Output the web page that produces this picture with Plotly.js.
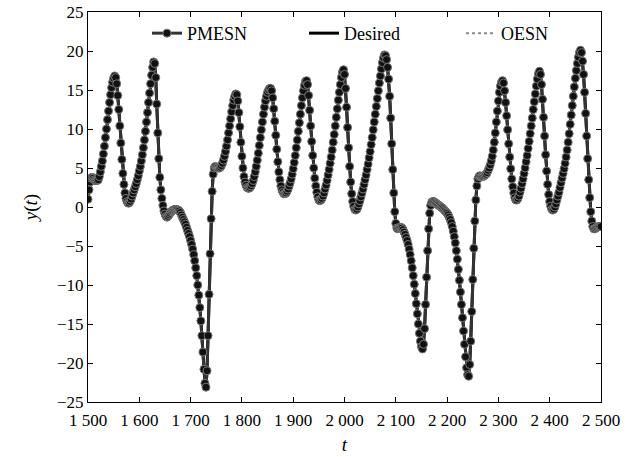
<!DOCTYPE html>
<html>
<head>
<meta charset="utf-8">
<script src="https://cdn.plot.ly/plotly-3.0.1.min.js"></script>
<style>html,body{margin:0;padding:0;background:#fff;}#chart{width:635px;height:457px;}</style>
</head>
<body>
<div id="chart"></div>
<script>
// time axis: sampled every 2 units from 1500 to 2500
const tStart = 1500;
const tStep = 2;

// y(t), one array per 100 time units (50 samples each)
const y1500 = [1.0,2.2,3.2,3.7,3.8,3.7,3.5,3.4,3.4,3.4,3.5,3.9,4.5,5.2,5.9,6.8,7.8,8.9,10.0,11.2,
  12.3,13.4,14.4,15.3,16.0,16.5,16.8,16.6,15.8,14.3,12.5,10.4,8.2,6.1,4.3,2.9,1.8,1.1,0.7,0.5,
  0.5,0.7,1.0,1.4,1.8,2.2,2.6,3.0,3.5,4.0];
const y1600 = [4.6,5.2,5.9,6.7,7.6,8.6,9.7,10.9,12.1,13.4,14.6,15.8,16.9,17.9,18.6,18.4,16.6,13.2,9.5,6.2,
  3.8,2.2,1.1,0.2,-0.5,-0.9,-1.2,-1.3,-1.2,-1.0,-0.8,-0.6,-0.5,-0.4,-0.35,-0.3,-0.3,-0.35,-0.4,-0.5,
  -0.7,-1.0,-1.3,-1.6,-1.9,-2.2,-2.6,-3.0,-3.4,-3.8];
const y1700 = [-4.3,-4.8,-5.4,-6.1,-6.9,-7.8,-8.8,-10.0,-11.3,-12.9,-14.6,-16.5,-18.6,-20.8,-22.6,-23.1,-21.0,-16.5,-11.2,-6.0,
  -1.5,2.0,4.2,5.0,5.2,5.1,5.0,5.0,5.0,5.1,5.3,5.6,6.0,6.5,7.1,7.8,8.6,9.5,10.4,11.3,
  12.2,13.0,13.7,14.2,14.5,14.4,13.6,12.1,10.3,8.3];
const y1800 = [6.5,5.0,3.9,3.2,2.8,2.5,2.4,2.4,2.5,2.7,3.0,3.4,3.9,4.5,5.2,6.0,6.9,7.9,8.9,9.9,
  10.9,11.9,12.8,13.6,14.2,14.7,15.0,15.2,15.2,14.9,14.0,12.6,11.0,9.2,7.4,5.8,4.5,3.5,2.7,2.2,
  1.9,1.7,1.7,1.8,2.0,2.3,2.7,3.1,3.6,4.2];
const y1900 = [4.9,5.7,6.6,7.6,8.6,9.7,10.8,11.9,13.0,14.0,14.9,15.6,16.1,16.2,15.7,14.3,12.4,10.4,8.4,6.6,
  5.0,3.7,2.7,1.9,1.3,0.9,0.8,0.9,1.1,1.4,1.8,2.3,2.8,3.4,4.1,4.8,5.6,6.4,7.3,8.3,
  9.3,10.4,11.5,12.6,13.7,14.7,15.7,16.6,17.3,17.6];
const y2000 = [17.0,15.2,12.8,10.2,7.6,5.2,3.2,1.7,0.7,0.1,-0.3,-0.4,-0.3,0.0,0.4,0.8,1.3,1.8,2.3,2.9,
  3.5,4.1,4.8,5.5,6.3,7.1,8.0,8.9,9.9,10.9,11.9,12.9,13.9,14.9,15.9,16.8,17.7,18.5,19.1,19.5,
  19.4,18.9,17.9,16.4,14.2,11.4,8.1,4.8,1.8,-0.6];
const y2100 = [-2.1,-2.7,-2.8,-2.7,-2.6,-2.6,-2.7,-2.9,-3.2,-3.5,-3.9,-4.3,-4.8,-5.4,-6.1,-6.9,-7.8,-8.8,-9.9,-11.1,
  -12.4,-13.7,-15.0,-16.2,-17.2,-17.9,-18.2,-17.6,-15.6,-12.5,-9.0,-5.6,-2.8,-0.8,0.2,0.6,0.7,0.7,0.6,0.5,
  0.4,0.3,0.2,0.1,0.0,-0.1,-0.2,-0.35,-0.5,-0.65];
const y2200 = [-0.8,-1.0,-1.3,-1.6,-2.0,-2.5,-3.1,-3.8,-4.6,-5.6,-6.7,-8.0,-9.4,-10.9,-12.5,-14.2,-15.9,-17.6,-19.2,-20.6,
  -21.5,-21.7,-20.2,-17.2,-13.4,-9.3,-5.3,-1.8,0.9,2.7,3.6,3.9,4.0,3.9,3.9,3.9,4.0,4.1,4.2,4.4,
  4.7,5.0,5.4,5.9,6.5,7.3,8.3,9.5,10.9,12.3];
const y2300 = [13.6,14.7,15.5,16.0,16.2,15.9,14.9,13.4,11.7,9.9,8.1,6.4,4.9,3.6,2.6,1.8,1.2,0.9,0.9,1.1,
  1.4,1.9,2.4,3.0,3.6,4.3,5.0,5.8,6.6,7.5,8.4,9.4,10.4,11.4,12.5,13.5,14.5,15.5,16.4,17.1,
  17.4,17.0,15.7,13.8,11.5,9.1,6.7,4.6,2.9,1.6];
const y2400 = [0.7,0.1,-0.3,-0.4,-0.3,0.0,0.4,0.9,1.4,1.9,2.5,3.1,3.7,4.3,4.9,5.6,6.4,7.3,8.3,9.4,
  10.6,11.8,13.0,14.2,15.4,16.5,17.5,18.4,19.2,19.8,20.1,19.8,18.7,17.0,14.7,12.0,9.1,6.2,3.5,1.2,
  -0.6,-1.8,-2.5,-2.8,-2.8,-2.7,-2.6,-2.5,-2.5,-2.5,-2.5];

const yDesired = [].concat(y1500,y1600,y1700,y1800,y1900,y2000,y2100,y2200,y2300,y2400);
const yPMESN = yDesired.slice();
const yOESN = yDesired.slice();
const tVals = yDesired.map((_, i) => tStart + i * tStep);

const xTickVals = [1500,1600,1700,1800,1900,2000,2100,2200,2300,2400,2500];
const xTickText = ['1 500','1 600','1 700','1 800','1 900','2 000','2 100','2 200','2 300','2 400','2 500'];
const yTickVals = [-25,-20,-15,-10,-5,0,5,10,15,20,25];

const font = '"Liberation Serif", "Times New Roman", Times, serif';

const traces = [
  {x: tVals, y: yOESN, name: 'OESN', type: 'scatter', mode: 'lines',
   line: {color: '#8a8a8a', width: 2, dash: 'dot'}},
  {x: tVals, y: yDesired, name: 'Desired', type: 'scatter', mode: 'lines',
   line: {color: '#000', width: 3}},
  {x: tVals, y: yPMESN, name: 'PMESN', type: 'scatter', mode: 'lines+markers',
   line: {color: '#333', width: 3},
   marker: {color: '#111', size: 8, line: {color: '#777', width: 1}}}
];

const axisCommon = {
  showline: true, mirror: 'ticks', linecolor: '#000', linewidth: 1,
  ticks: 'inside', ticklen: 5, tickcolor: '#000', tickwidth: 1,
  showgrid: false, zeroline: false,
  tickfont: {family: font, size: 17, color: '#000'}
};

const layout = {
  width: 635, height: 457,
  margin: {l: 88, r: 34, t: 12, b: 55},
  paper_bgcolor: '#fff', plot_bgcolor: '#fff',
  font: {family: font, color: '#000'},
  showlegend: true,
  legend: {orientation: 'h', x: 0.115, y: 0.945, xanchor: 'left', yanchor: 'middle',
           traceorder: 'reversed', bgcolor: 'rgba(0,0,0,0)',
           entrywidth: 112, entrywidthmode: 'pixels',
           font: {family: font, size: 18, color: '#000'}},
  xaxis: Object.assign({}, axisCommon, {
    range: [1500, 2500], tickvals: xTickVals, ticktext: xTickText,
    ticklabelstandoff: 3,
    title: {text: '<i>t</i>', font: {family: font, size: 19}, standoff: 8}
  }),
  yaxis: Object.assign({}, axisCommon, {
    range: [-25, 25], tickvals: yTickVals,
    title: {text: '<i>y</i>(<i>t</i>)', font: {family: font, size: 19}, standoff: 14}
  })
};

Plotly.newPlot('chart', traces, layout, {displayModeBar: false, staticPlot: true});
</script>
</body>
</html>
